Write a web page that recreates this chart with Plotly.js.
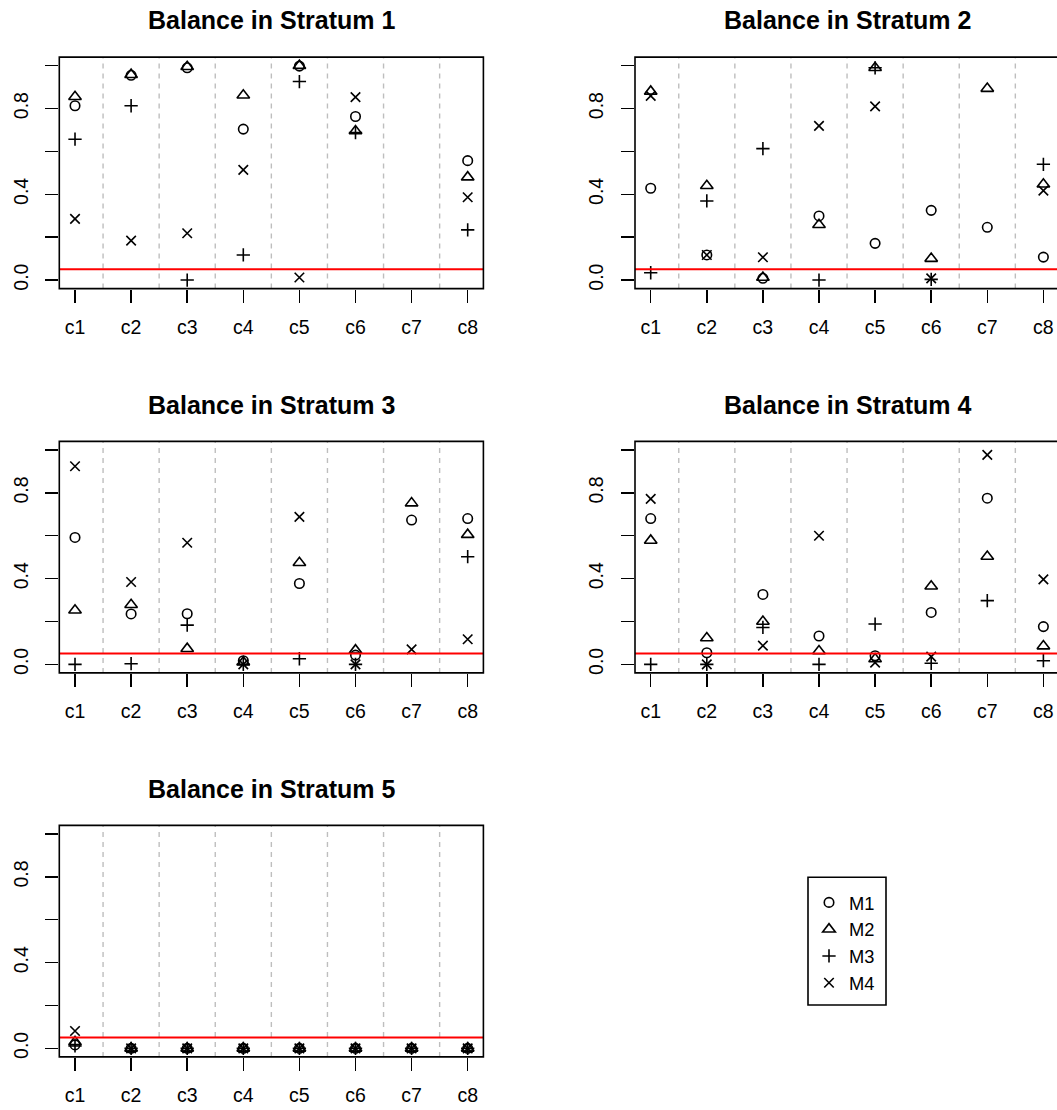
<!DOCTYPE html>
<html>
<head>
<meta charset="utf-8">
<script src="https://cdn.plot.ly/plotly-3.0.1.min.js"></script>
<style>html,body{margin:0;padding:0;background:#fff;}#chart{width:1057px;height:1110px;}</style>
</head>
<body>
<div id="chart"></div>
<script>
// ---------- data ----------
const categories = ['c1', 'c2', 'c3', 'c4', 'c5', 'c6', 'c7', 'c8'];
const methods = ['M1', 'M2', 'M3', 'M4'];
const panelTitles = ['Balance in Stratum 1', 'Balance in Stratum 2', 'Balance in Stratum 3', 'Balance in Stratum 4', 'Balance in Stratum 5'];
const threshold = 0.05;
const yTickVals = [0, 0.2, 0.4, 0.6, 0.8, 1.0];
const yTickText = ['0.0', '', '0.4', '', '0.8', ''];

const s1_M1 = [0.813, 0.955, 0.990, 0.704, 0.998, 0.763, null, 0.557];
const s1_M2 = [0.855, 0.958, 0.995, 0.862, 1.000, 0.695, null, 0.480];
const s1_M3 = [0.657, 0.813, 0.000, 0.117, 0.926, 0.688, null, 0.234];
const s1_M4 = [0.285, 0.184, 0.218, 0.514, 0.012, 0.853, null, 0.386];

const s2_M1 = [0.428, 0.117, 0.008, 0.299, 0.171, 0.325, 0.246, 0.107];
const s2_M2 = [0.880, 0.440, 0.012, 0.258, 0.990, 0.100, 0.893, 0.447];
const s2_M3 = [0.034, 0.369, 0.613, 0.000, 0.990, 0.003, null, 0.540];
const s2_M4 = [0.859, 0.117, 0.106, 0.719, 0.810, 0.008, null, 0.417];

const s3_M1 = [0.592, 0.235, 0.236, 0.017, 0.377, 0.043, 0.673, 0.680];
const s3_M2 = [0.252, 0.278, 0.073, 0.010, 0.474, 0.066, 0.752, 0.605];
const s3_M3 = [0.000, 0.003, 0.183, 0.000, 0.026, 0.000, null, 0.502];
const s3_M4 = [0.924, 0.384, 0.567, 0.000, 0.688, 0.000, 0.070, 0.117];

const s4_M1 = [0.680, 0.054, 0.326, 0.132, 0.040, 0.242, 0.775, 0.176];
const s4_M2 = [0.578, 0.123, 0.200, 0.062, 0.025, 0.364, 0.503, 0.085];
const s4_M3 = [0.000, 0.000, 0.172, 0.000, 0.188, 0.005, 0.297, 0.017];
const s4_M4 = [0.772, 0.000, 0.087, 0.600, 0.008, 0.036, 0.977, 0.396];

const s5_M1 = [0.016, 0, 0, 0, 0, 0, 0, 0];
const s5_M2 = [0.030, 0, 0, 0, 0, 0, 0, 0];
const s5_M3 = [0.011, 0, 0, 0, 0, 0, 0, 0];
const s5_M4 = [0.081, 0, 0, 0, 0, 0, 0, 0];

const strata = [
  [s1_M1, s1_M2, s1_M3, s1_M4],
  [s2_M1, s2_M2, s2_M3, s2_M4],
  [s3_M1, s3_M2, s3_M3, s3_M4],
  [s4_M1, s4_M2, s4_M3, s4_M4],
  [s5_M1, s5_M2, s5_M3, s5_M4]
];

// ---------- layout geometry (pixels) ----------
const W = 1057, H = 1110;
const FONT = 'Liberation Sans, Arial, Helvetica, sans-serif';
const TICK_FONT = 19.5;
const boxes = [
  {left: 59.3, right: 483.4, top: 57.1, bottom: 288.6},
  {left: 635.0, right: 1059.1, top: 57.1, bottom: 288.6},
  {left: 59.3, right: 483.4, top: 441.4, bottom: 672.9},
  {left: 635.0, right: 1059.1, top: 441.4, bottom: 672.9},
  {left: 59.3, right: 483.4, top: 825.4, bottom: 1056.9}
];
const symbols = ['circle-open', 'triangle-up-open', 'cross-thin-open', 'x-thin-open'];
const sizes = [9.5, 11, 9.5, 9.5];

const xIdx = categories.map((c, i) => i + 1);
const xLo = 0.72, xHi = categories.length + 0.28;

const traces = [];
const layout = {
  width: W, height: H,
  margin: {l: 0, r: 0, t: 0, b: 0},
  paper_bgcolor: '#ffffff', plot_bgcolor: 'rgba(0,0,0,0)',
  font: {family: FONT, color: '#000000', size: TICK_FONT},
  showlegend: true,
  legend: {
    x: 809 / W, y: 1 - 884 / H, xanchor: 'left', yanchor: 'top',
    bgcolor: 'rgba(0,0,0,0)', borderwidth: 0,
    font: {family: FONT, size: 18.3, color: '#000'},
    itemwidth: 30, itemclick: false, itemdoubleclick: false
  },
  shapes: [], annotations: []
};

boxes.forEach((b, p) => {
  const ax = p === 0 ? '' : String(p + 1);
  const visRight = Math.min(b.right, W);
  const xEnd = xLo + (xHi - xLo) * (visRight - b.left) / (b.right - b.left);
  layout['xaxis' + ax] = {
    domain: [b.left / W, visRight / W],
    anchor: 'y' + ax,
    range: [xLo, xEnd],
    tickvals: xIdx, ticktext: categories,
    ticks: 'outside', ticklen: 13, tickwidth: 1.5, tickcolor: '#000',
    showline: false, showgrid: false, zeroline: false,
    tickfont: {family: FONT, size: TICK_FONT, color: '#000'},
    ticklabelstandoff: 8,
    fixedrange: true
  };
  layout['yaxis' + ax] = {
    domain: [1 - b.bottom / H, 1 - b.top / H],
    anchor: 'x' + ax,
    range: [-0.04, 1.04],
    tickvals: yTickVals, ticktext: yTickText,
    tickangle: -90,
    ticks: 'outside', ticklen: 13, tickwidth: 1.5, tickcolor: '#000',
    showline: false, showgrid: false, zeroline: false,
    tickfont: {family: FONT, size: TICK_FONT, color: '#000'},
    ticklabelstandoff: 10,
    fixedrange: true
  };
  // separators between categories
  for (let k = 1; k < categories.length; k++) {
    layout.shapes.push({
      type: 'line', xref: 'x' + ax, yref: 'y' + ax + ' domain',
      x0: k + 0.5, x1: k + 0.5, y0: 0, y1: 1, layer: 'below',
      line: {color: '#BEBEBE', width: 1.4, dash: '5px,5px'}
    });
  }
  // threshold line
  layout.shapes.push({
    type: 'line', xref: 'x' + ax + ' domain', yref: 'y' + ax,
    x0: 0, x1: 1, y0: threshold, y1: threshold,
    line: {color: '#FF0000', width: 2}
  });
  // plot box
  layout.shapes.push({
    type: 'rect', xref: 'x' + ax + ' domain', yref: 'y' + ax + ' domain',
    x0: 0, x1: (b.right - b.left) / (visRight - b.left), y0: 0, y1: 1,
    line: {color: '#000', width: 1.6}, fillcolor: 'rgba(0,0,0,0)'
  });
  // title
  layout.annotations.push({
    text: panelTitles[p], showarrow: false,
    xref: 'paper', yref: 'paper',
    x: ((b.left + b.right) / 2) / W, y: 1 - (b.top - 36.7) / H,
    xanchor: 'center', yanchor: 'middle',
    font: {family: FONT, size: 25, color: '#000', weight: 'bold'}
  });
  strata[p].forEach((vals, m) => {
    traces.push({
      type: 'scatter', mode: 'markers',
      x: xIdx, y: vals,
      xaxis: 'x' + ax, yaxis: 'y' + ax,
      name: methods[m], showlegend: p === 0,
      cliponaxis: false,
      marker: {symbol: symbols[m], size: sizes[m], color: '#000', line: {width: 1.6, color: '#000'}},
      hoverinfo: 'x+y'
    });
  });
});

// legend frame
layout.shapes.push({
  type: 'rect', xref: 'paper', yref: 'paper',
  x0: 808 / W, x1: 886 / W, y0: 1 - 1005 / H, y1: 1 - 877.3 / H,
  line: {color: '#000', width: 1.6}, fillcolor: 'rgba(0,0,0,0)'
});

Plotly.newPlot('chart', traces, layout, {displayModeBar: false, staticPlot: true});
</script>
</body>
</html>
